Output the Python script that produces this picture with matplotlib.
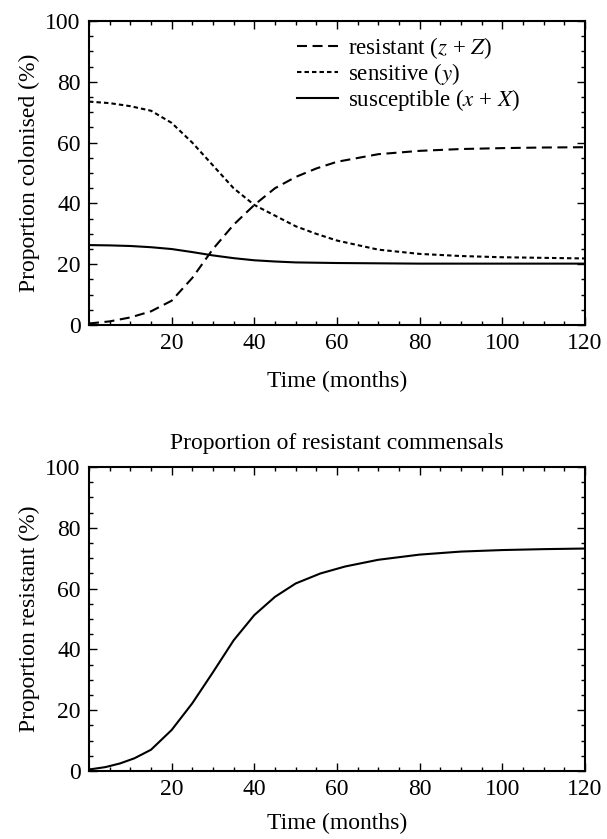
import numpy as np
import matplotlib
matplotlib.use("Agg")
import matplotlib.pyplot as plt
from matplotlib.ticker import MultipleLocator, FixedLocator

plt.rcParams['font.family'] = ['Liberation Serif', 'DejaVu Serif']
plt.rcParams['mathtext.fontset'] = 'stix'
plt.rcParams['lines.scale_dashes'] = False

# values (time in months, % colonised)
t_top = [0, 5, 10, 15, 20, 25, 30, 35, 40, 45, 50, 55, 60, 70, 80, 90, 100, 110, 120]
resistant = [0.5, 1.2, 2.5, 4.5, 8.0, 15.5, 25.0, 33.0, 39.5, 45.0, 48.7, 51.5, 53.7, 56.2, 57.3, 57.9, 58.2, 58.4, 58.5]
sensitive = [73.5, 73.0, 72.0, 70.5, 66.5, 60.0, 52.5, 45.0, 39.5, 36.0, 32.5, 30.0, 27.8, 24.8, 23.4, 22.7, 22.3, 22.1, 21.9]
susceptible = [26.3, 26.2, 26.0, 25.6, 25.0, 24.0, 22.9, 22.0, 21.3, 20.9, 20.6, 20.5, 20.4, 20.3, 20.2, 20.2, 20.2, 20.2, 20.2]

t_bot = [0, 4, 7.5, 11, 15, 20, 25, 30, 35, 40, 45, 50, 56, 62, 70, 80, 90, 100, 110, 120]
prop_resistant = [0.5, 1.3, 2.5, 4.2, 7.0, 13.5, 22.3, 32.5, 43.0, 51.3, 57.3, 61.7, 65.0, 67.3, 69.5, 71.2, 72.2, 72.7, 73.0, 73.2]

x_ticks = [20, 40, 60, 80, 100, 120]
y_ticks = [0, 20, 40, 60, 80, 100]

fig = plt.figure(figsize=(6.07, 8.39), dpi=100)
ax1 = fig.add_axes([0.1466, 0.6126, 0.817, 0.3623])
ax2 = fig.add_axes([0.1466, 0.0810, 0.817, 0.3623])

fs = 17

ax1.plot(t_top, resistant, color='black', lw=1.5, dashes=(7.2, 4.0),
         label='resistant ($z$ + $Z$)')
ax1.plot(t_top, sensitive, color='black', lw=1.5, dashes=(3.2, 2.2),
         label='sensitive ($y$)')
ax1.plot(t_top, susceptible, color='black', lw=1.5,
         label='susceptible ($x$ + $X$)')
ax1.legend(loc='upper left', frameon=False, fontsize=16.5, handlelength=1.8,
           handletextpad=0.45, labelspacing=0.0, borderpad=0,
           borderaxespad=0, bbox_to_anchor=(0.419, 0.955))
ax1.set_ylabel('Proportion colonised (%)', fontsize=fs)
ax1.set_xlabel('Time (months)', fontsize=fs, labelpad=12)

ax2.plot(t_bot, prop_resistant, color='black', lw=1.5)
ax2.set_ylabel('Proportion resistant (%)', fontsize=fs)
ax2.set_xlabel('Time (months)', fontsize=fs, labelpad=9)
ax2.set_title('Proportion of resistant commensals', fontsize=fs, pad=13)

for ax in (ax1, ax2):
    ax.set_xlim(0, 120)
    ax.set_ylim(0, 100)
    ax.xaxis.set_major_locator(FixedLocator(x_ticks))
    ax.yaxis.set_major_locator(FixedLocator(y_ticks))
    ax.xaxis.set_minor_locator(MultipleLocator(5))
    ax.yaxis.set_minor_locator(MultipleLocator(5))
    ax.tick_params(which='both', direction='in', top=True, right=True,
                   labelsize=fs, width=1)
    ax.tick_params(which='major', length=6, pad=6)
    ax.tick_params(which='minor', length=3)
    for sp in ax.spines.values():
        sp.set_linewidth(1.5)

fig.savefig('out.png', dpi=100)
